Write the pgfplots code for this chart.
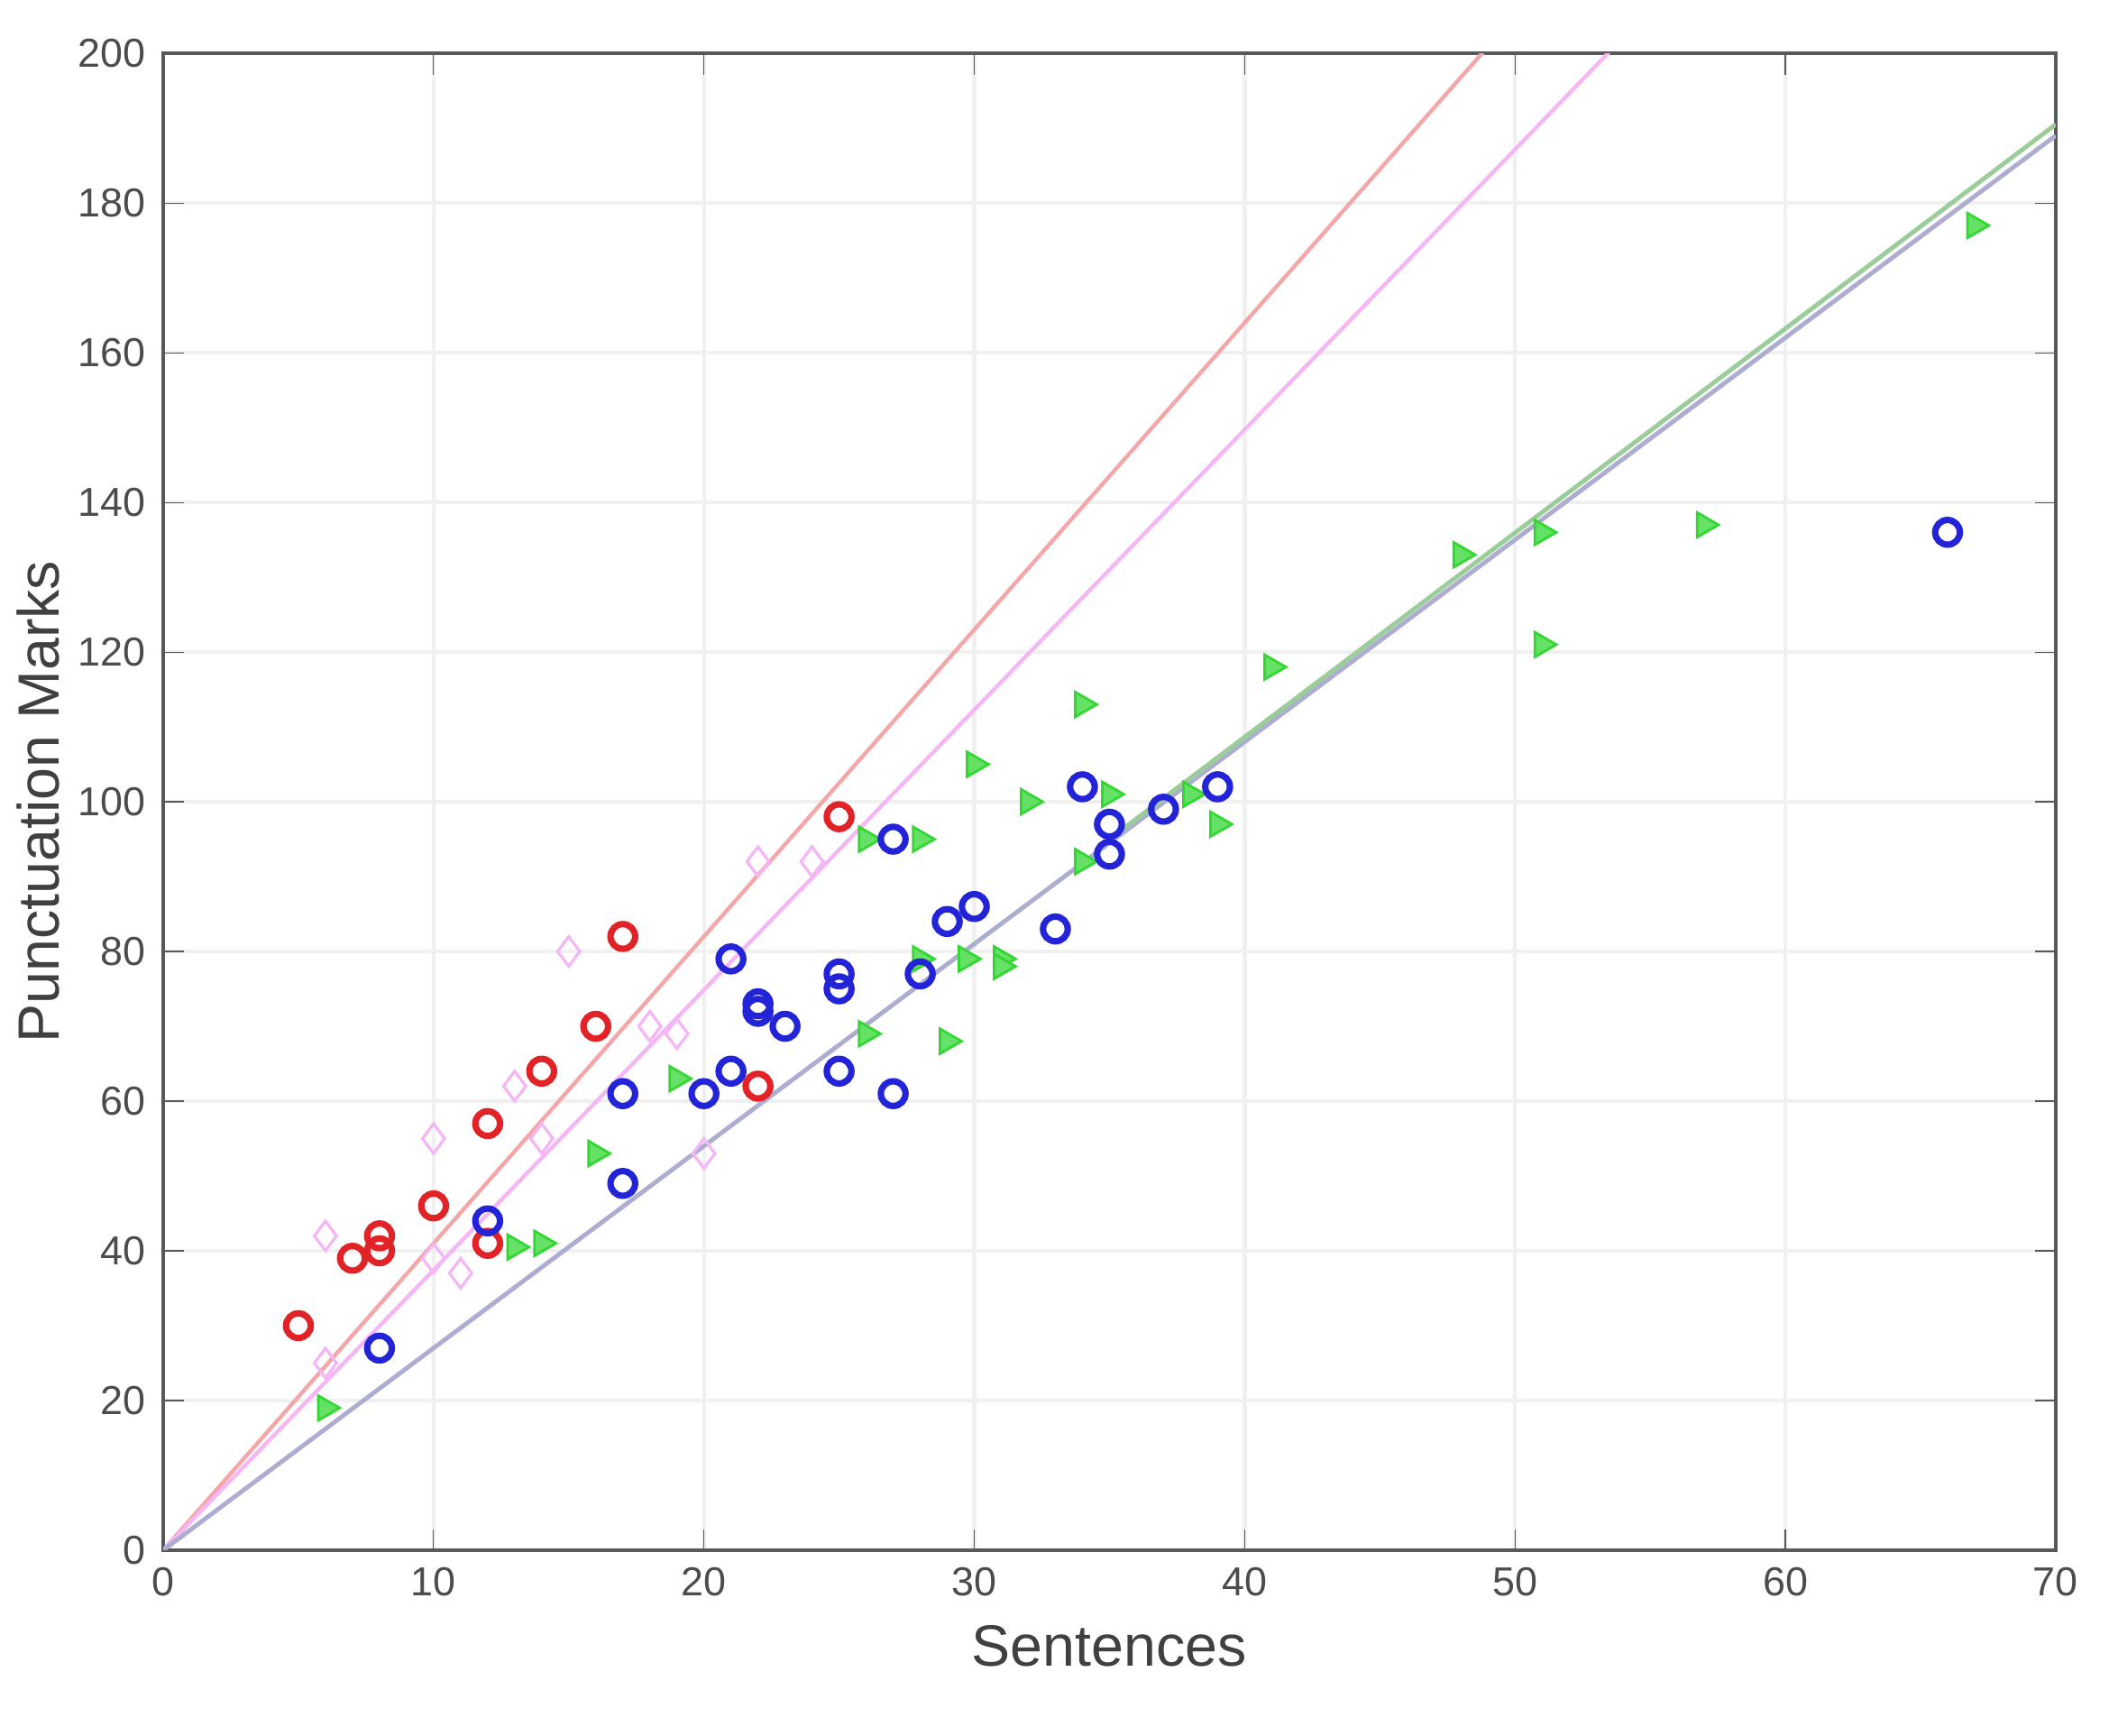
\documentclass[border=0pt]{standalone}
\usepackage{fontspec}
\setmainfont{Liberation Sans}
\usepackage{pgfplots}
\pgfplotsset{compat=1.18}

\definecolor{mred}{RGB}{225,35,40}
\definecolor{mblue}{RGB}{35,35,215}
\definecolor{mgreen}{RGB}{50,215,50}
\definecolor{mpink}{RGB}{240,150,240}

\begin{document}
\begin{tikzpicture}
\begin{axis}[
    name=main,
    scale only axis,
    width=13.48cm, height=10.66cm,
    xmin=0, xmax=70, ymin=0, ymax=200,
    xtick={0,10,...,70}, ytick={0,20,...,200},
    grid=major,
    grid style={gray!12, line width=0.8pt},
    axis line style={gray!70!black, line width=0.8pt},
    tick style={gray!70!black},
    tick align=inside,
    ticklabel style={font=\fontsize{8.2}{10}\selectfont, text=gray!60!black},
    /pgf/number format/assume math mode=true,
    xlabel={Sentences}, ylabel={Punctuation Marks},
    label style={font=\fontsize{11.8}{14}\selectfont, text=black!75},
    xlabel style={yshift=1pt},
    ylabel style={yshift=-3pt},
]
% fitted lines
\addplot[mred!40, line width=0.8pt] coordinates {(0,0) (70,287)};
\addplot[mpink!70, line width=0.8pt] coordinates {(0,0) (70,262)};
\addplot[mblue!40!gray!50, line width=0.9pt] coordinates {(0,0) (70,189)};
\addplot[mgreen!50!gray!60, line width=0.9pt] coordinates {(35,95) (70,190.5)};

% pink diamonds
\addplot[only marks, mark=diamond, mark size=3pt, mpink!70, line width=0.6pt] coordinates {
(6,42) (6,25) (10,55) (10,39) (13,62) (14,55) (15,80) (18,70) (19,69) (20,53) (22,92) (24,92) (11,37)
};
% red circles
\addplot[only marks, mark=o, mark size=2.5pt, mred, line width=1.3pt] coordinates {
(5,30) (7,39) (8,42) (8,40) (10,46) (12,57) (12,41) (14,64) (16,70) (17,82) (22,62) (25,98)
};
% green triangles
\addplot[only marks, mark=triangle*, mark options={rotate=-90, fill=mgreen!75}, mark size=2.9pt, mgreen, line width=0.5pt] coordinates {
(6,19) (13,40.5) (14,41) (16,53) (19,63) (26,95) (26,69) (28,95) (28,79) (29,68) (29.7,79)
(30,105) (31,79) (31,78) (32,100) (34,113) (34,92) (35,101) (38,101) (39,97) (41,118)
(48,133) (51,136) (51,121) (57,137) (67,177)
};
% blue circles
\addplot[only marks, mark=o, mark size=2.5pt, mblue, line width=1.3pt] coordinates {
(8,27) (12,44) (17,61) (17,49) (20,61) (21,79) (21,64) (22,73) (22,72) (23,70)
(25,77) (25,75) (25,64) (27,95) (27,61) (28,77) (29,84) (30,86) (33,83) (34,102)
(35,97) (35,93) (37,99) (39,102) (66,136)
};
\end{axis}
\path (main.north east) ++(0.38cm,0.38cm);
\path (main.south west) ++(0,-1.32cm);
\end{tikzpicture}
\end{document}
